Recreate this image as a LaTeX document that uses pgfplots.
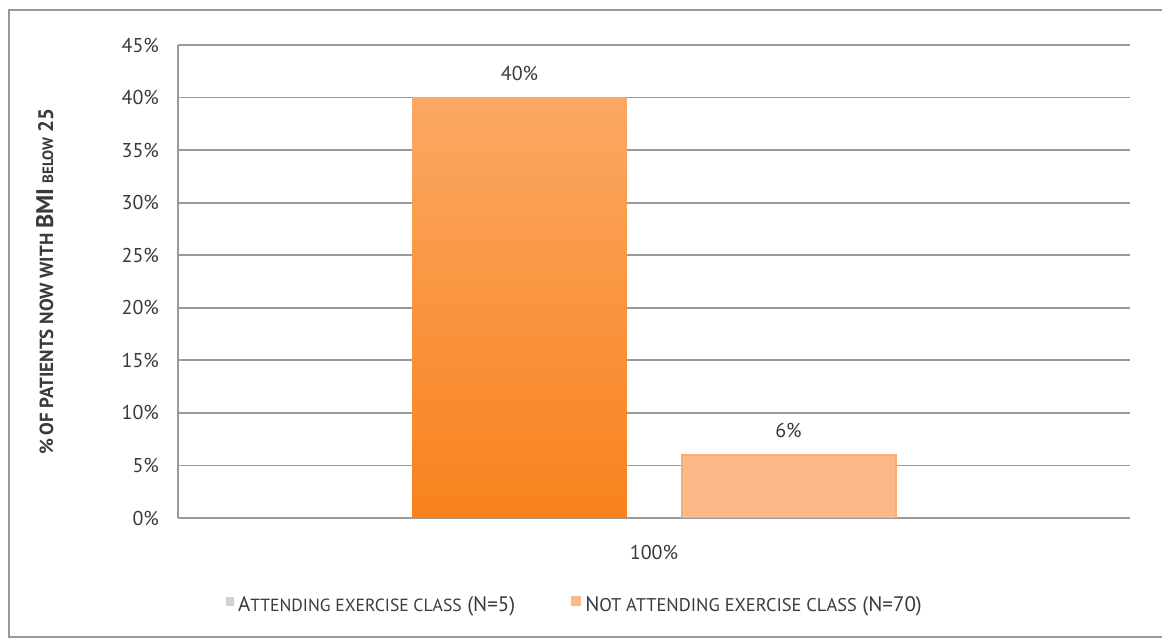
\documentclass[border=0pt]{standalone}
\usepackage{pgfplots}
\pgfplotsset{compat=1.18}
\usepackage{fontspec}
\setmainfont{PT Sans}
\definecolor{gridc}{HTML}{9A9A9A}
\definecolor{txt}{HTML}{3A3A3A}
\definecolor{barA}{HTML}{F8821C}
\definecolor{barAtop}{HTML}{FBA862}
\definecolor{barB}{HTML}{FBB987}
\definecolor{barBedge}{HTML}{F9AC72}
\begin{document}
\begin{tikzpicture}
\useasboundingbox (0,0) rectangle (581pt,320pt);
\draw[gray!80, line width=1pt] (4.5pt,1.5pt) rectangle (582pt,315pt);
\begin{axis}[
  at={(89pt,61pt)}, anchor=south west,
  scale only axis, width=476pt, height=236.5pt,
  xmin=-1, xmax=1, ymin=0, ymax=45,
  ybar=27.5pt, bar width=107pt,
  ytick={0,5,...,45},
  yticklabel={\pgfmathprintnumber{\tick}\%},
  /pgf/number format/assume math mode=true,
  xtick={0}, xticklabels={100\%},
  major tick length=0pt,
  axis x line*=bottom, axis y line*=left,
  axis line style={gridc, line width=0.9pt, -},
  ymajorgrids, grid style={gridc, line width=0.9pt},
  tick label style={font=\fontsize{10}{12}\selectfont, text=txt},
  yticklabel style={xshift=-6pt},
  xticklabel style={yshift=-10pt},
  ylabel={\bfseries\color{txt}{\fontsize{9.5}{11}\selectfont \%\,OF PATIENTS NOW WITH} {\fontsize{12}{12}\selectfont BMI} {\fontsize{7.5}{9}\selectfont BELOW} {\fontsize{10.5}{12}\selectfont 25}},
  ylabel style={at={(axis description cs:-0.14,0.5)}, anchor=center},
  nodes near coords={\pgfmathprintnumber{\pgfplotspointmeta}\%},
  nodes near coords style={font=\fontsize{10}{12}\selectfont, text=txt, yshift=5pt},
  legend columns=2,
  legend style={draw=none, fill=none, at={(axis description cs:0.418,-0.184)}, anchor=center,
    font=\fontsize{10.5}{12}\selectfont\color{txt}, /tikz/every even column/.append style={column sep=26pt}},
]
\addplot[draw=none, top color=barAtop, bottom color=barA,
  legend image code/.code={\path[fill=gray!35, top color=gray!35, bottom color=gray!35] (0pt,0pt) rectangle (4pt,4pt);}]
  coordinates {(0,40)};
\addlegendentry{A{\fontsize{8.8}{10}\selectfont TTENDING EXERCISE CLASS} (N=5)}
\addplot[draw=barBedge, line width=1pt, fill=barB,
  legend image code/.code={\fill[barB] (0pt,0pt) rectangle (4pt,4pt);}]
  coordinates {(0,6)};
\addlegendentry{N{\fontsize{9.2}{10}\selectfont OT ATTENDING EXERCISE CLASS} (N=70)}
\end{axis}
\end{tikzpicture}
\end{document}
